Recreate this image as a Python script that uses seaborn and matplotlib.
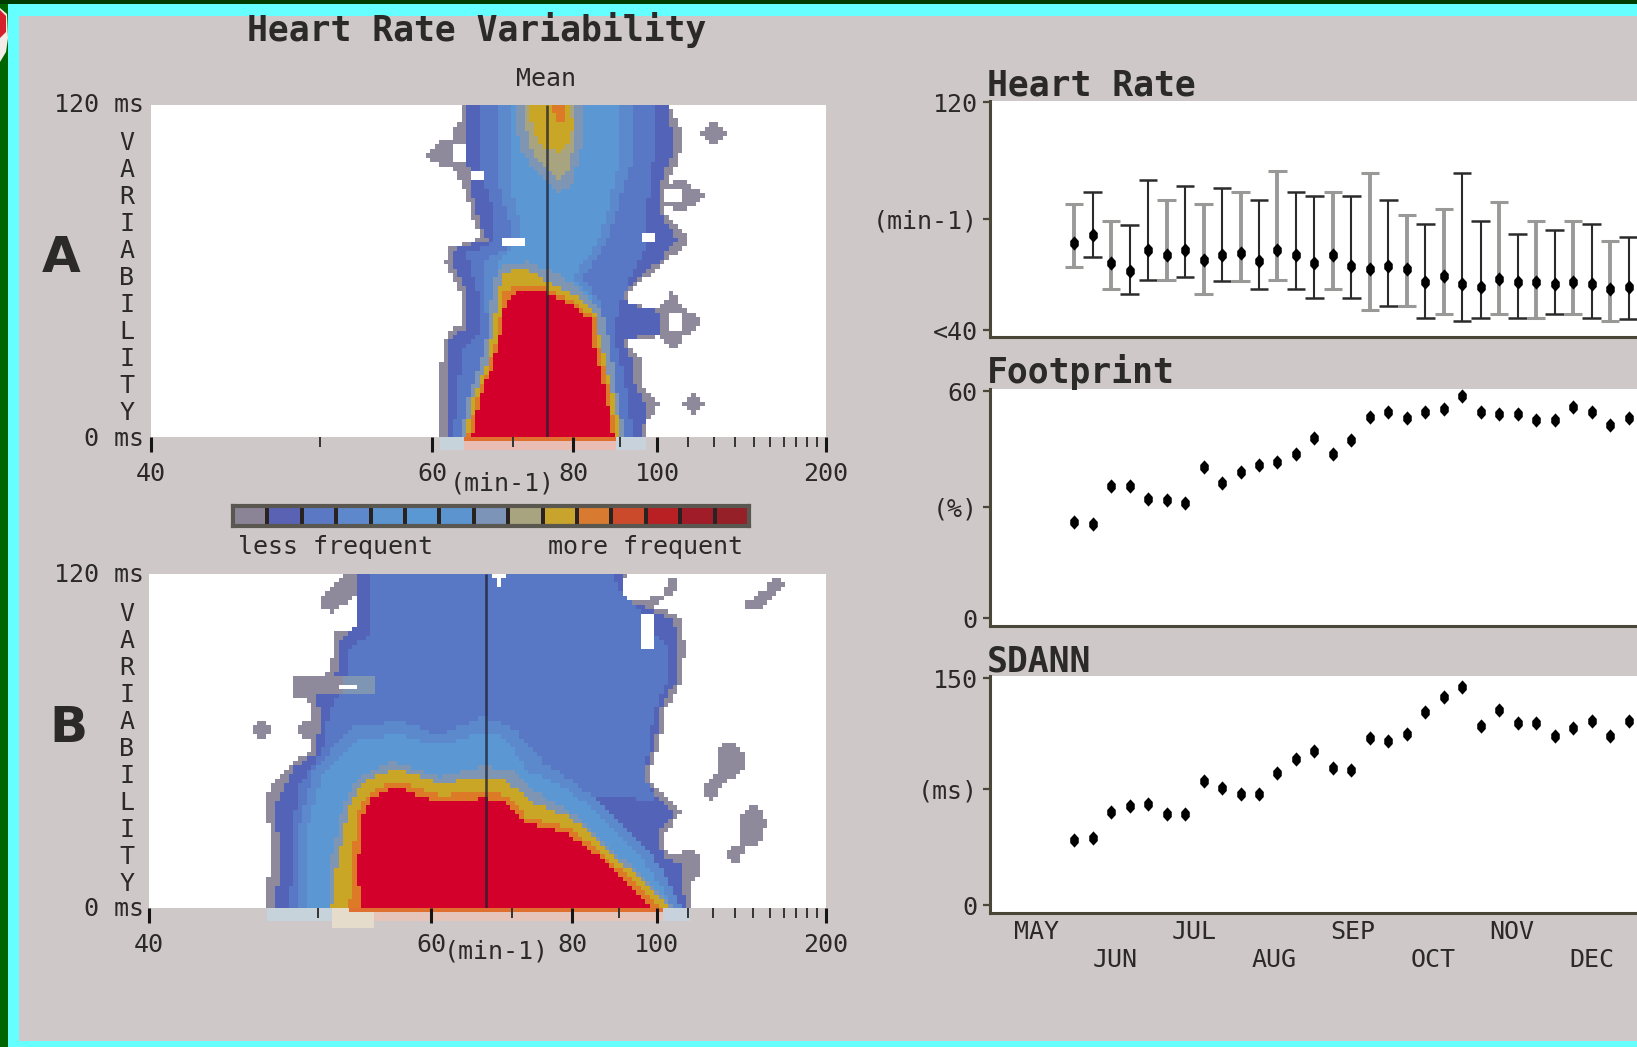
import matplotlib

matplotlib.use("Agg")

import matplotlib.pyplot as plt
import numpy as np
import seaborn as sns
from matplotlib.colors import ListedColormap
from matplotlib.markers import MarkerStyle
from matplotlib.patches import Polygon, Rectangle
from matplotlib.path import Path
from matplotlib.transforms import blended_transform_factory

W, H = 1637, 1047
BG = "#cfc8c9"
INK = "#2b2a28"

# colour steps of the density map, 0 is "no beats"
level_colors = [
    "#ffffff", "#8f899c", "#5364b8", "#5877c4", "#5c88cc", "#5b97d3", "#5c94d0", "#6f93c0",
    "#7f95b4", "#a8a480", "#c9a626", "#dd7a28", "#d8422c", "#d4202c", "#d0102c", "#d4002c",
]
legend_colors = [
    "#8a8496", "#5a62b4", "#5a78c4", "#5e88cc", "#5c94d0", "#5a98d4", "#5c94d0", "#7c94b8",
    "#a8a480", "#c8a42c", "#d87a30", "#cc4a2c", "#b82024", "#a01c28", "#962028",
]

hr_major = [40, 60, 80, 100, 200]
hr_minor = [50, 70, 90, 110, 120, 130, 140, 150, 160, 170, 180, 190]

# panel A contours, (min-1, ms)
a_mean = 75.3
a_outer = [(63.6, 120), (63.0, 113.4), (62.0, 109.7), (62.3, 97.7), (63.0, 92.3), (63.9, 89.2), (64.3, 79.6),
           (65.6, 73.6), (64.6, 70.5), (62.0, 68.7), (61.3, 62.7), (62.3, 56.7), (63.3, 51.9), (63.2, 40.4),
           (61.9, 38.6), (61.0, 31.4), (60.8, 0), (96.7, 0), (97.5, 7.2), (100.8, 11.5), (96.0, 18.1),
           (95.2, 27.7), (92.3, 32), (92.3, 35), (100.8, 36.2), (100.8, 46.4), (92.3, 47.6), (92.3, 51.9),
           (96.0, 56.7), (101.6, 62.7), (108.9, 68.7), (108.9, 73.6), (102.5, 80.8), (103.4, 92.9),
           (107.9, 103.7), (107.9, 111), (103.4, 120)]
a_blob_1 = [(59.3, 101.9), (61.0, 106.7), (63.5, 106.5), (64.0, 98), (61.0, 97.1)]
a_blob_2 = [(115.0, 109.7), (119.9, 114), (125.3, 109.7), (119.9, 105.5)]
a_blob_3 = [(107.9, 11.5), (111.8, 15.7), (116.0, 11.5), (111.8, 7.2)]
a_blob_4 = [(100.8, 87.1), (103.0, 91), (107.9, 93), (112.0, 90), (116.5, 87.1), (112.0, 84), (107.9, 81), (103.0, 83.5)]
a_blob_5 = [(104.6, 53.1), (108.0, 47), (116.0, 41.6), (108.0, 35.5), (104.6, 30.8), (100.5, 36), (100.0, 41.6), (100.5, 47)]
a_blue = [(63.9, 120), (63.8, 109.7), (64.3, 90.5), (65.3, 79.6), (66.4, 71.2), (62.6, 68.1), (62.1, 62.7),
          (63.0, 57.3), (63.9, 51.9), (63.9, 39.2), (62.0, 36.2), (61.5, 0), (95.6, 0), (96.7, 10.9), (93.8, 19.3),
          (93.0, 27.7), (91.0, 32.6), (91.0, 35), (100.0, 37.4), (100.0, 45.2), (91.7, 48.2), (91.0, 51.9),
          (94.5, 57.9), (100.8, 63.9), (106.0, 71.2), (100.8, 80.8), (100.8, 91.7), (105.0, 103.7), (104.2, 111),
          (103.0, 120)]
a_mid = [(65.3, 120), (65.6, 97.7), (67.5, 79.6), (67.1, 70), (63.9, 66.3), (64.6, 57.9), (65.3, 51.9), (65.3, 37.4),
         (63.3, 31.4), (62.3, 0), (93.0, 0), (92.3, 10.9), (90.3, 25.3), (88.4, 37.4), (89.7, 47), (93.0, 59),
         (96.7, 68.7), (96.7, 80.8), (99.0, 101.3), (99.0, 120)]
a_light = [(68.0, 120), (68.0, 90.5), (69.8, 76), (69.4, 68.7), (66.4, 63.9), (66.0, 54.3), (66.7, 37.4), (64.6, 15.7),
           (63.3, 0), (90.3, 0), (89.0, 15.7), (87.0, 37.4), (85.3, 49.4), (81.9, 57.9), (86.5, 68.7), (89.0, 80.8),
           (93.0, 100), (93.0, 120)]
a_inner = [(69.5, 120), (69.5, 92), (71.0, 78), (71.0, 70), (68.0, 64), (67.5, 56), (68.0, 38), (65.5, 16), (64.0, 0),
           (89.0, 0), (88.0, 16), (85.5, 38), (84.0, 50), (80.0, 58), (84.5, 69), (87.0, 81), (90.0, 100), (90.0, 120)]
a_halo = [(63.3, 0), (63.9, 13.3), (65.6, 26.5), (66.7, 39.8), (67.1, 54.3), (68.2, 61.5), (72.2, 63.3), (75.8, 60.3),
          (80.8, 54.3), (85.9, 44.6), (87.7, 33.8), (89.0, 19.3), (91.0, 0)]
a_streak_halo = [(70.2, 120), (71.0, 103.7), (73.8, 95.3), (77.0, 88), (79.8, 90.5), (81.9, 107.3), (81.9, 120)]
a_streak_tan = [(71.5, 120), (72.4, 105), (75.0, 97), (77.2, 93), (78.9, 96), (80.6, 108), (80.4, 120)]
a_yellow = [(63.6, 0), (64.6, 13.3), (66.4, 26.5), (67.3, 39.8), (68.0, 53.1), (68.8, 59.7), (71.8, 60.9), (74.9, 56.7),
            (79.8, 51.9), (84.1, 45.8), (85.9, 32.6), (87.7, 19.3), (90.3, 0)]
a_streak_yellow = [(72.5, 117), (73.4, 109), (75.0, 104), (77.5, 103), (79.0, 105), (80.0, 111), (79.5, 120),
                   (72.9, 120)]
a_orange = [(63.9, 0), (65.1, 13.3), (66.7, 25.3), (68.0, 38.6), (68.6, 51.9), (70.6, 54.3), (74.4, 54.3), (79.8, 49.4),
            (84.6, 42.2), (85.3, 31.4), (87.2, 19.3), (89.0, 0)]
a_streak_orange = [(76.3, 119.4), (77.0, 113.4), (78.2, 114), (78.7, 119.4)]
a_core = [(64.5, 0), (65.6, 14.5), (67.1, 25.3), (68.2, 37.4), (69.0, 49.4), (70.6, 52.8), (74.4, 52.8), (79.8, 47.6),
          (83.5, 42.2), (84.1, 32.6), (85.9, 21.7), (88.5, 0)]
a_hole_1 = [(62.4, 105), (63.8, 105), (63.8, 98.8), (62.4, 98.8)]
a_hole_2 = [(64.3, 95.9), (65.8, 95.9), (65.8, 92.3), (64.3, 92.3)]
a_hole_3 = [(102.5, 89.8), (107.5, 89.8), (107.5, 84.5), (102.5, 84.5)]
a_hole_4 = [(95.2, 74.2), (100.0, 74.2), (100.0, 69.9), (95.2, 69.9)]
a_hole_5 = [(103.0, 44.6), (107.9, 44.6), (107.9, 38.6), (103.0, 38.6)]
a_hole_6 = [(68.8, 72.7), (71.8, 72.7), (71.8, 69), (68.8, 69)]

# panel B contours, (min-1, ms)
b_mean = 66.5
b_outer = [(51.7, 120), (52.0, 115.6), (53.0, 111.8), (52.9, 100.3), (51.3, 98.4), (50.9, 86.3), (50.2, 82.5),
           (48.3, 82.5), (48.1, 76.1), (49.5, 73.6), (49.5, 55.8), (48.3, 53.2), (46.9, 44.3), (46.3, 37.9),
           (46.7, 27.8), (46.5, 0), (110.8, 0), (110.8, 7.4), (115.0, 13.7), (113.0, 21.4), (107.9, 20.1),
           (103.0, 18.2), (102.0, 26.5), (107.5, 34.1), (102.0, 40.5), (97.5, 46.8), (100.8, 58.3), (102.5, 71),
           (108.0, 81.2), (109.0, 92.7), (108.0, 104.1), (100.8, 107.3), (97.0, 109.2), (90.0, 111.8), (91.7, 120)]
b_blob_1 = [(100.8, 111.8), (105.0, 119.4), (107.0, 115.6), (100.8, 109.2), (95.5, 106.7), (94.7, 110.5)]
b_blob_2 = [(51.5, 118.1), (54.3, 119.4), (53.0, 111.8), (51.0, 106), (50.0, 108), (50.3, 112.5)]
b_blob_3 = [(45.6, 64), (46.2, 68.5), (46.9, 64), (46.2, 59.6)]
b_blob_4 = [(48.4, 64), (49.1, 68.5), (49.7, 64), (49.1, 59.6)]
b_blob_5 = [(154, 119.4), (160, 116.2), (145, 106.7), (138, 106.7), (134, 109.2), (147, 114.3)]
b_blob_6 = [(128.3, 60.2), (135.3, 54.5), (133.9, 49.4), (125.5, 44.9), (123, 43), (119.4, 38.6), (115, 41.8),
            (118, 44.9), (123, 49.4), (121.8, 57)]
b_blob_7 = [(140, 37.9), (148, 31.6), (145, 23.9), (135.3, 21.4), (132.4, 15.7), (125.5, 17.6), (127, 21.4),
            (133.9, 23.9), (133.9, 32.9)]
b_blue = [(53.1, 120), (53.1, 101.6), (51.7, 96.5), (51.5, 85), (49.7, 78.7), (50.1, 69.8), (49.9, 55.8), (48.4, 50.7),
          (47.6, 43), (46.9, 35.4), (47.3, 22.7), (47.1, 0), (109.0, 0), (107.9, 15), (102.0, 18.8), (100.0, 26.5),
          (105.4, 34.1), (100.0, 40.5), (96.0, 46.8), (99.5, 58.3), (100.8, 71), (106.0, 81.2), (107.0, 92.7),
          (105.3, 102.9), (99.0, 106.7), (91.7, 110.5), (90.3, 120)]
b_grey_patch = [(48.3, 82.5), (51.8, 82.5), (51.8, 76.1), (48.3, 76.1)]
b_grey_tail = [(51.8, 82.5), (54.5, 82.5), (54.5, 76.1), (51.8, 76.1)]
b_mid = [(54.3, 120), (54.3, 99), (52.4, 92.7), (52.0, 81.2), (50.7, 68.5), (50.3, 55.8), (48.7, 44.3), (48.3, 32.8),
         (48.0, 0), (105.3, 0), (96.7, 16.3), (89.0, 30.3), (84.1, 39.2), (90.3, 40.5), (99.5, 37.9), (96.7, 48.1),
         (98.0, 60.8), (99.5, 71), (103.4, 82.5), (103.4, 92.7), (90.3, 114.3), (88.4, 120)]
b_pale = [(48.4, 0), (48.6, 29), (49.7, 49.4), (52.4, 64.7), (56.8, 67.2), (60.8, 62.1), (66.0, 68.5), (70.2, 64.7),
          (74.9, 52), (81.9, 43), (90.3, 30.3), (99.5, 17.6), (107.9, 0)]
b_light = [(49.1, 0), (49.3, 30.3), (50.3, 48.1), (53.0, 60.8), (56.8, 62.1), (60.8, 58.3), (66.0, 63.4), (69.2, 60.8),
           (72.2, 49.4), (79.8, 41.8), (87.9, 29), (96.7, 16.3), (105.3, 0)]
b_halo = [(50.7, 0), (50.9, 17.6), (52.0, 37.9), (53.0, 46.8), (56.3, 52.6), (60.8, 46.8), (66.0, 50.7), (70.2, 49.4),
          (74.4, 40.5), (80.9, 32.8), (87.9, 21.4), (96.0, 11.2), (105.3, 0)]
b_yellow = [(51.0, 0), (51.4, 16.3), (52.4, 36.7), (53.3, 44.9), (56.3, 50), (60.8, 44.9), (66.0, 46.8), (69.0, 46.2),
            (73.1, 37.9), (80.4, 31.6), (86.5, 21.4), (94.5, 11.2), (104.2, 0)]
b_orange = [(52.4, 0), (52.6, 16.3), (53.1, 35.4), (54.2, 41.8), (56.3, 45.6), (60.8, 40.5), (66.7, 41.8), (69.4, 40.5),
            (72.2, 32.2), (79.3, 29), (84.6, 21.4), (92.3, 11.2), (102.0, 0)]
b_core = [(53.3, 0), (53.1, 15), (53.6, 34.8), (54.3, 39.2), (56.3, 43.7), (60.8, 37.9), (66.4, 39.5), (69.0, 37.9),
          (72.2, 30.3), (78.7, 27.1), (82.8, 22), (90.3, 11.2), (99.0, 0)]
b_hole_1 = [(67.2, 120), (69.4, 120), (68.2, 115.6)]
b_hole_2 = [(95.6, 104.8), (100.0, 104.8), (100.0, 93.3), (95.6, 93.3)]
b_hole_3 = [(51.5, 80.6), (53.1, 80.6), (53.1, 78), (51.5, 78)]

# weekly trend panels
hr_mean = [70.7, 73.5, 63.7, 60.8, 68.0, 66.3, 68.0, 64.5, 66.3, 67.1, 64.3, 68.0, 66.3, 63.6, 66.3, 62.4,
           61.6, 62.4, 61.6, 56.9, 58.9, 56.4, 55.2, 57.9, 56.9, 56.9, 56.4, 56.9, 56.1, 54.6, 55.2]
hr_high = [84.4, 88.5, 78.2, 76.8, 92.6, 85.6, 90.5, 84.2, 89.8, 88.5, 85.6, 95.8, 88.5, 87.0, 88.5, 87.0,
           95.3, 85.6, 80.3, 77.4, 82.6, 95.3, 78.2, 85.0, 73.9, 78.2, 75.0, 78.2, 77.4, 71.2, 72.7]
hr_low = [62.2, 65.7, 54.6, 52.9, 57.5, 57.5, 58.7, 52.9, 57.3, 57.3, 54.6, 57.5, 54.4, 51.3, 54.4, 51.3,
          47.0, 48.4, 48.4, 44.4, 45.6, 43.3, 44.4, 45.6, 44.4, 44.4, 45.6, 45.6, 44.4, 43.3, 44.1]
hr_grey = [1, 0, 1, 0, 0, 1, 0, 1, 0, 1, 0, 1, 0, 0, 1, 0, 1, 0, 1, 0, 1, 0, 0, 1, 0, 1, 0, 1, 0, 1, 0]
footprint = [25.6, 25.0, 35.1, 35.1, 31.6, 31.2, 30.4, 40.0, 35.9, 38.7, 40.6, 41.3, 43.5, 47.7, 43.5, 47.2,
             53.2, 54.6, 53.0, 54.6, 55.2, 58.7, 54.5, 54.0, 54.0, 52.3, 52.3, 55.9, 54.6, 51.2, 53.0]
sdann = [43.0, 44.8, 61.8, 65.5, 66.8, 60.2, 60.2, 82.3, 77.2, 73.5, 73.5, 87.1, 96.4, 101.9, 90.9, 89.3,
         110.3, 108.8, 113.2, 127.5, 137.4, 144.5, 118.5, 129.0, 120.2, 120.2, 111.8, 116.9, 122.0, 111.8, 122.0]
weeks = list(range(31))
month_labels = ["MAY", "JUN", "JUL", "AUG", "SEP", "OCT", "NOV", "DEC"]
month_weeks = [-2.06, 2.23, 6.5, 10.8, 15.1, 19.4, 23.7, 28.0]


def box(x0, y0, x1, y1):
    return [x0 / W, 1 - y1 / H, (x1 - x0) / W, (y1 - y0) / H]


def label(fig, x, y, s, size=18, weight="normal", ha="center", family="DejaVu Sans Mono", **kw):
    fig.text(x / W, 1 - y / H, s, fontsize=size, fontweight=weight, ha=ha, va="center",
             family=family, color=INK, **kw)


def hr_to_col(hr, n_cols):
    # the rate axis is linear in RR interval, 40/min on the left, 200/min on the right
    return (1500 - 60000 / np.asarray(hr, dtype=float)) / 1200 * n_cols


def paint(layers, n_cols=150, n_rows=75):
    rr = 1500 - (np.arange(n_cols) + 0.5) / n_cols * 1200
    ms = 120 - (np.arange(n_rows) + 0.5) / n_rows * 120
    xx, yy = np.meshgrid(60000 / rr, ms)
    pts = np.column_stack([xx.ravel(), yy.ravel()])
    grid = np.zeros((n_rows, n_cols), dtype=int)
    for level, poly in layers:
        inside = Path(poly).contains_points(pts).reshape(grid.shape)
        grid[inside] = level
    return grid


def density_panel(fig, rect, layers, mean_hr, bleed):
    ax = fig.add_axes(rect)
    grid = paint(layers)
    n_rows, n_cols = grid.shape
    sns.heatmap(grid, ax=ax, cmap=ListedColormap(level_colors), vmin=0, vmax=15, cbar=False,
                xticklabels=False, yticklabels=False)
    ax.set_xlabel("")
    ax.set_ylabel("")
    ax.vlines(hr_to_col(mean_hr, n_cols), 0, n_rows, color="#1c2030", alpha=0.75, lw=1.9)
    ax.set_xticks(hr_to_col(hr_major, n_cols), [str(v) for v in hr_major], fontsize=18, color=INK,
                  family="DejaVu Sans Mono")
    ax.set_xticks(hr_to_col(hr_minor, n_cols), minor=True)
    ax.tick_params(axis="x", which="major", length=11, width=2.2, color="#151515", pad=7, bottom=True)
    ax.tick_params(axis="x", which="minor", length=7.5, width=1.4, color="#333333", bottom=True)
    # soft colour bleed under the baseline
    trans = blended_transform_factory(ax.transData, ax.transAxes)
    for lo, hi, depth, colour in bleed:
        x0 = hr_to_col(lo, n_cols)
        ax.add_patch(Rectangle((x0, -depth), hr_to_col(hi, n_cols) - x0, depth, transform=trans,
                               facecolor=colour, edgecolor="none", clip_on=False, zorder=0.5))
    return ax


def trend_axes(fig, rect, ylim, ticks, tick_labels):
    ax = fig.add_axes(rect, facecolor="white")
    ax.set_xlim(-4.56, 30.46)
    ax.set_ylim(*ylim)
    sns.despine(ax=ax)
    for side in ["left", "bottom"]:
        ax.spines[side].set_color("#4a4638")
        ax.spines[side].set_linewidth(2.2)
    ax.set_yticks(ticks, tick_labels, fontsize=18, color=INK, family="DejaVu Sans Mono")
    ax.tick_params(axis="y", length=5, width=1.6, color="#4a4638", pad=4, left=True)
    ax.set_xticks([])
    return ax


def run():
    sns.set_theme(style="white")
    plt.rcParams["font.family"] = ["DejaVu Sans Mono", "DejaVu Sans"]

    fig = plt.figure(figsize=(W / 100, H / 100), dpi=100, facecolor=BG)

    # picture frame
    for x, y, w, h, colour in [
        (8, 4, W - 8, 12, "#66ffff"), (8, 4, 11, H - 4, "#66ffff"), (8, 1041, W - 8, 6, "#66ffff"),
        (0, 0, 8, H, "#006400"), (0, 0, W, 4, "#003c00"),
    ]:
        fig.add_artist(Rectangle((x / W, 1 - (y + h) / H), w / W, h / H, transform=fig.transFigure,
                                 facecolor=colour, edgecolor="none"))
    corner = [(0, 8), (7, 14), (8, 38), (6, 52), (0, 62)]
    fig.add_artist(Polygon([(x / W, 1 - y / H) for x, y in corner], transform=fig.transFigure,
                           facecolor="#f4ece8", edgecolor="none"))
    corner_red = [(0, 10), (6, 16), (6, 32), (0, 38)]
    fig.add_artist(Polygon([(x / W, 1 - y / H) for x, y in corner_red], transform=fig.transFigure,
                           facecolor="#d4202c", edgecolor="none"))

    label(fig, 477, 30, "Heart Rate Variability", size=25, weight="bold")
    label(fig, 546, 79, "Mean", size=18)

    layers_a = [(1, a_outer), (1, a_blob_1), (1, a_blob_2), (1, a_blob_3), (1, a_blob_4), (1, a_blob_5),
                (2, a_blue), (3, a_mid), (4, a_light), (5, a_inner), (8, a_halo), (8, a_streak_halo),
                (9, a_streak_tan), (10, a_yellow), (10, a_streak_yellow), (11, a_orange), (11, a_streak_orange),
                (15, a_core), (0, a_hole_1), (0, a_hole_2), (0, a_hole_3), (0, a_hole_4), (0, a_hole_5),
                (0, a_hole_6)]
    bleed_a = [(60.8, 63.6, 0.04, "#c6d3da"), (63.6, 89.0, 0.04, "#e9bcb4"), (89.0, 96.7, 0.04, "#c8d2dc"),
               (63.6, 89.0, 0.012, "#e07030")]
    density_panel(fig, box(151, 104.5, 826, 437), layers_a, a_mean, bleed_a)

    layers_b = [(1, b_outer), (1, b_blob_1), (1, b_blob_2), (1, b_blob_3), (1, b_blob_4), (1, b_blob_5),
                (1, b_blob_6), (1, b_blob_7), (2, b_blue), (3, b_mid), (1, b_grey_patch), (8, b_grey_tail),
                (4, b_pale), (5, b_light), (8, b_halo), (10, b_yellow), (11, b_orange), (15, b_core),
                (0, b_hole_1), (0, b_hole_2), (0, b_hole_3)]
    bleed_b = [(46.5, 51.0, 0.04, "#c6d3da"), (51.0, 54.5, 0.06, "#e6dccc"), (54.5, 102.0, 0.04, "#e6c4ba"),
               (102.0, 110.8, 0.04, "#c8d2dc"), (52.4, 102.0, 0.012, "#e07030")]
    density_panel(fig, box(149, 573.5, 826, 908), layers_b, b_mean, bleed_b)

    label(fig, 502, 483, "(min-1)")
    label(fig, 496, 952, "(min-1)")

    for y_top, y_bottom, y_var in [(105, 439, 278), (575, 909, 749)]:
        label(fig, 144, y_top, "120 ms", ha="right")
        label(fig, 144, y_bottom, "0 ms", ha="right")
        label(fig, 127, y_var, "\n".join("VARIABILITY"), linespacing=1.16)
    label(fig, 61, 258, "A", size=36, weight="bold", family="DejaVu Sans")
    label(fig, 68, 728, "B", size=36, weight="bold", family="DejaVu Sans")

    # colour key
    ax_key = fig.add_axes(box(233, 506, 749, 526))
    sns.heatmap(np.arange(15).reshape(1, -1), ax=ax_key, cmap=ListedColormap(legend_colors), vmin=0, vmax=14,
                cbar=False, xticklabels=False, yticklabels=False, linewidths=1.6, linecolor="#2a2220")
    ax_key.set_xlabel("")
    ax_key.set_ylabel("")
    for spine in ax_key.spines.values():
        spine.set_visible(True)
        spine.set_color("#5a5650")
        spine.set_linewidth(3)
    label(fig, 336, 547, "less frequent")
    label(fig, 645, 547, "more frequent")

    # heart rate, mean with spread
    ax_hr = trend_axes(fig, box(990, 101, W, 337), (37.66, 120.4), [40, 79, 120], ["<40", "(min-1)", "120"])
    dot = MarkerStyle(Path([(0, 1), (0.6, 0.35), (0.6, -0.35), (0, -1), (-0.6, -0.35), (-0.6, 0.35), (0, 1)]))
    for week, low, high, grey in zip(weeks, hr_low, hr_high, hr_grey):
        colour = "#999997" if grey else "#2b2b2b"
        width = 2.8 if grey else 1.5
        ax_hr.vlines(week, low, high, color=colour, lw=width)
        ax_hr.hlines([low, high], week - 0.5, week + 0.5, color=colour, lw=2.2 if grey else 1.8)
    sns.scatterplot(x=weeks, y=hr_mean, ax=ax_hr, marker=dot, s=105, color="black", linewidth=0, zorder=3)

    ax_fp = trend_axes(fig, box(990, 389, W, 625.5), (-1.85, 60.6), [0, 29.4, 60], ["0", "(%)", "60"])
    sns.scatterplot(x=weeks, y=footprint, ax=ax_fp, marker=dot, s=105, color="black", linewidth=0)

    ax_sd = trend_axes(fig, box(990, 676, W, 913), (-5.07, 151.5), [0, 77, 150], ["0", "(ms)", "150"])
    sns.scatterplot(x=weeks, y=sdann, ax=ax_sd, marker=dot, s=105, color="black", linewidth=0)
    ax_sd.set_xticks(month_weeks, [m if i % 2 == 0 else "\n" + m for i, m in enumerate(month_labels)],
                     fontsize=18, color=INK, family="DejaVu Sans Mono", linespacing=1.2)
    ax_sd.tick_params(axis="x", length=0, pad=5)

    label(fig, 987, 85, "Heart Rate", size=25, weight="bold", ha="left")
    label(fig, 987, 372, "Footprint", size=25, weight="bold", ha="left")
    label(fig, 987, 662, "SDANN", size=25, weight="bold", ha="left")

    fig.savefig("out.png", dpi=100, facecolor=BG)
    plt.close(fig)


if __name__ == "__main__":
    run()
